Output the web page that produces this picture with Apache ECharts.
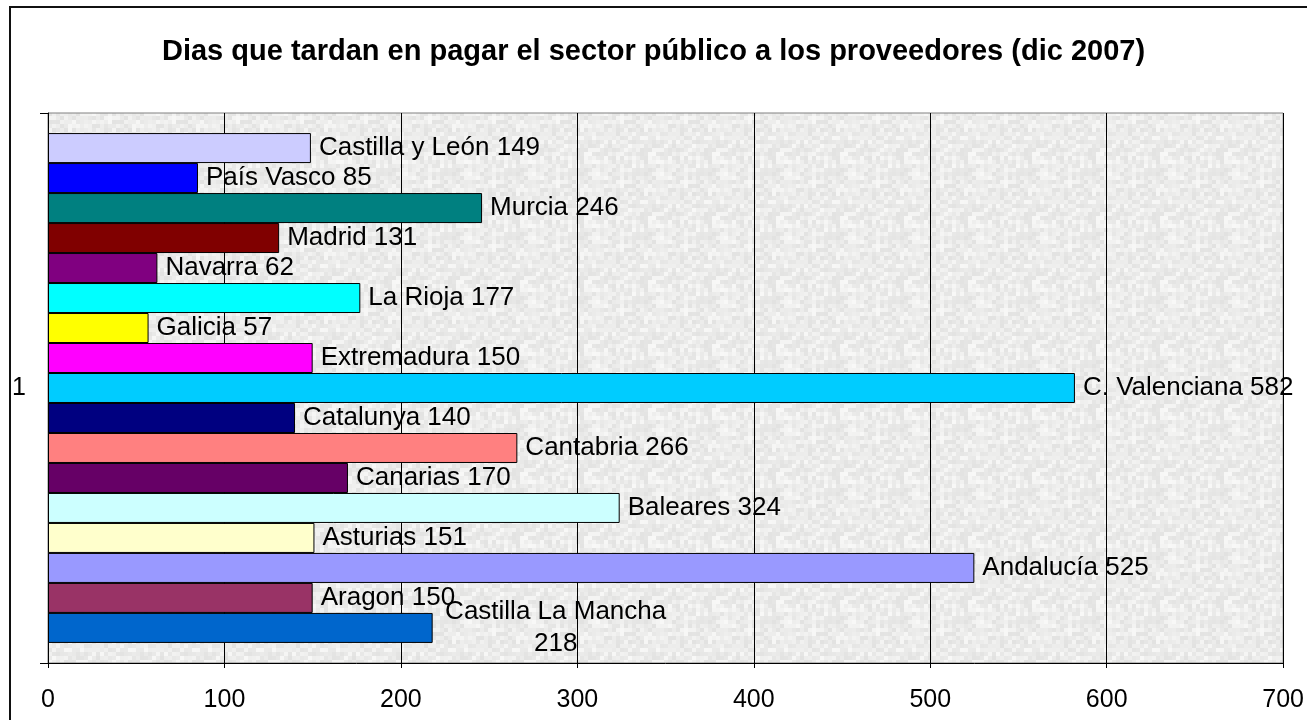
<!DOCTYPE html>
<html>
<head>
<meta charset="utf-8">
<title>Dias que tardan en pagar el sector público</title>
<script src="https://cdn.jsdelivr.net/npm/echarts@6/dist/echarts.min.js"></script>
<style>
  html, body { margin: 0; padding: 0; background: #fff; }
  #chart { width: 1307px; height: 720px; position: relative; }
  /* marco exterior de la hoja */
  #frame {
    position: absolute; left: 9px; top: 6px; width: 2000px; height: 2000px;
    border-left: 2px solid #111; border-top: 2px solid #111;
    pointer-events: none; z-index: 5;
  }
</style>
</head>
<body>
<div id="chart"></div>
<div id="frame"></div>
<script>
// datos (orden de series de Excel, de abajo arriba)
const categories = ['1'];
const regions = [
  'Castilla La Mancha', 'Aragon', 'Andalucía', 'Asturias', 'Baleares', 'Canarias',
  'Cantabria', 'Catalunya', 'C. Valenciana', 'Extremadura', 'Galicia', 'La Rioja',
  'Navarra', 'Madrid', 'Murcia', 'País Vasco', 'Castilla y León'
];
const days = [218, 150, 525, 151, 324, 170, 266, 140, 582, 150, 57, 177, 62, 131, 246, 85, 149];
const colors = [
  '#0066CC', '#993366', '#9999FF', '#FFFFCC', '#CCFFFF', '#660066',
  '#FF8080', '#000080', '#00CCFF', '#FF00FF', '#FFFF00', '#00FFFF',
  '#800080', '#800000', '#008080', '#0000FF', '#CCCCFF'
];
const xTicks = [0, 100, 200, 300, 400, 500, 600, 700];

// textura gris del fondo (deterministica)
const makeTexture = () => {
  const c = document.createElement('canvas');
  c.width = 64; c.height = 64;
  const ctx = c.getContext('2d');
  for (let y = 0; y < 16; y++) {
    for (let x = 0; x < 16; x++) {
      const h = Math.abs(Math.sin(x * 12.9898 + y * 78.233) * 43758.5453) % 1;
      const g = Math.round(226 + h * 22);
      ctx.fillStyle = `rgb(${g},${g},${g - 1})`;
      ctx.fillRect(x * 4, y * 4, 4, 4);
    }
  }
  return c;
};

const chart = echarts.init(document.getElementById('chart'));

// ECharts pone la primera serie arriba: se recorren al revés para que
// Castilla La Mancha quede abajo como en Excel
const series = [];
for (let i = regions.length - 1; i >= 0; i--) {
  const twoLines = regions[i] === 'Castilla La Mancha';
  series.push({
    name: regions[i],
    type: 'bar',
    data: [days[i]],
    barGap: '0%',
    barCategoryGap: '7.3%',
    itemStyle: { color: colors[i], borderColor: '#000', borderWidth: 1 },
    label: {
      show: true,
      position: 'right',
      distance: 8,
      color: '#000',
      fontFamily: 'Liberation Sans, Arial, sans-serif',
      fontSize: 26,
      formatter: twoLines ? '{c|{a}}\n{c|{c}}' : '{a} {c}',
      rich: twoLines ? { c: { width: 230, align: 'center', fontSize: 26, lineHeight: 32, color: '#000' } } : {}
    }
  });
}

const option = {
  backgroundColor: '#fff',
  animation: false,
  title: {
    text: 'Dias que tardan en pagar el sector público a los proveedores (dic 2007)',
    left: 'center',
    top: 32,
    textStyle: {
      fontFamily: 'Liberation Sans, Arial, sans-serif',
      fontSize: 29,
      fontWeight: 'bold',
      color: '#000'
    }
  },
  grid: {
    left: 48, right: 21, top: 113, bottom: 57,
    show: true,
    backgroundColor: { image: makeTexture(), repeat: 'repeat' },
    borderColor: '#808080',
    borderWidth: 1
  },
  xAxis: {
    type: 'value',
    min: xTicks[0],
    max: xTicks[xTicks.length - 1],
    interval: 100,
    axisLine: { show: true, lineStyle: { color: '#000', width: 1 } },
    axisTick: { show: true, length: 5, lineStyle: { color: '#000' } },
    axisLabel: {
      margin: 25,
      color: '#000',
      fontFamily: 'Liberation Sans, Arial, sans-serif',
      fontSize: 25
    },
    splitLine: { show: true, lineStyle: { color: '#000', width: 1 } }
  },
  yAxis: {
    type: 'category',
    data: categories,
    axisLine: { show: true, lineStyle: { color: '#000', width: 1 } },
    axisTick: { show: true, length: 8, lineStyle: { color: '#000' } },
    axisLabel: {
      margin: 22,
      color: '#000',
      fontFamily: 'Liberation Sans, Arial, sans-serif',
      fontSize: 25
    }
  },
  series: series
};

chart.setOption(option);
window.addEventListener('resize', () => chart.resize());
</script>
</body>
</html>
